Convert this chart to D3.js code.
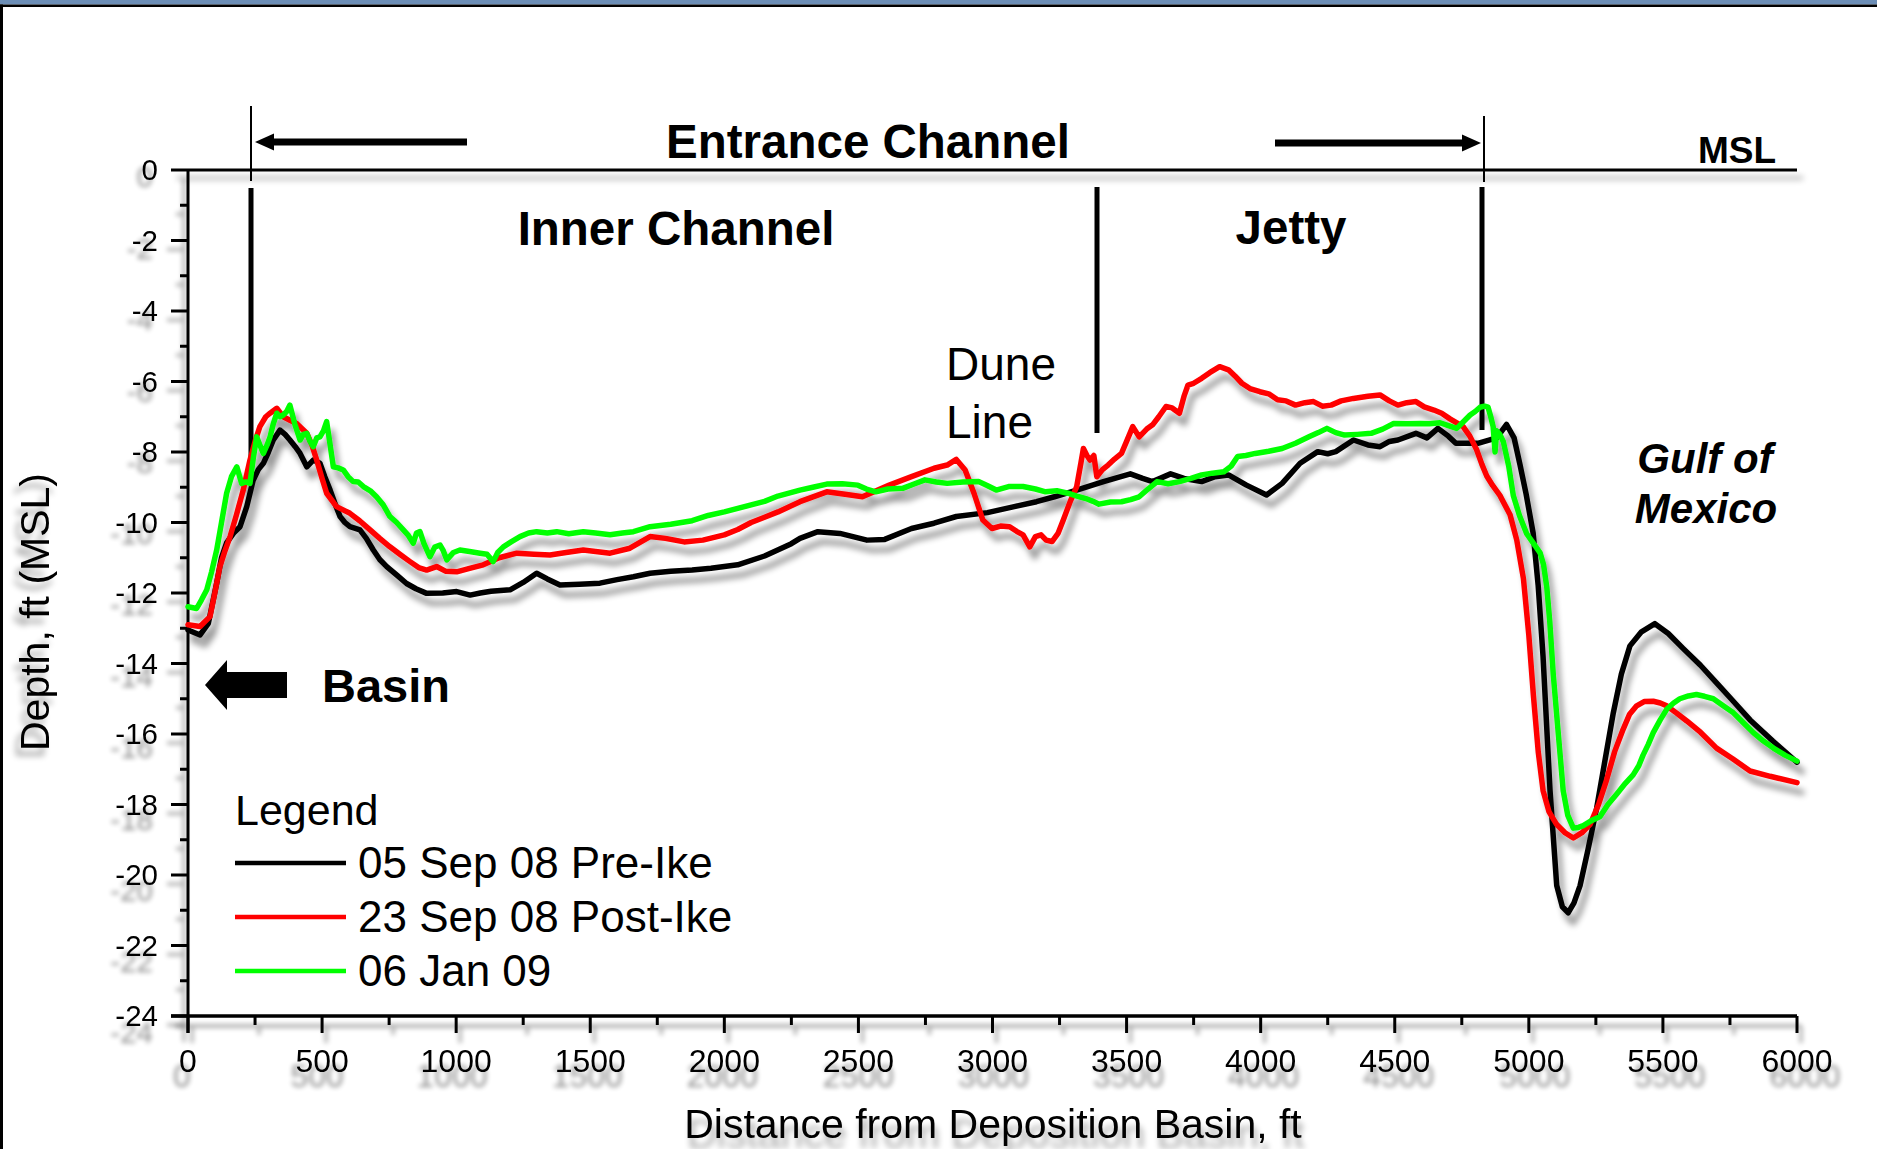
<!DOCTYPE html>
<html><head><meta charset="utf-8">
<script src="https://cdn.jsdelivr.net/npm/d3@7"></script>
<style>html,body{margin:0;padding:0;background:#fff;overflow:hidden}svg{display:block;font-family:"Liberation Sans",Arial,sans-serif}</style>
</head><body>
<svg id="c" width="1877" height="1149"></svg>
<script>
// ---------- data ----------
const xTickValues = [0,500,1000,1500,2000,2500,3000,3500,4000,4500,5000,5500,6000];
const xMinorValues = [250,750,1250,1750,2250,2750,3250,3750,4250,4750,5250,5750];
const yTickValues = [0,-2,-4,-6,-8,-10,-12,-14,-16,-18,-20,-22,-24];
const yMinorValues = [-1,-3,-5,-7,-9,-11,-13,-15,-17,-19,-21,-23];
const seriesNames = ["05 Sep 08 Pre-Ike","23 Sep 08 Post-Ike","06 Jan 09"];
const seriesColors = ["#000000","#ff0000","#00ff00"];
const preIke = [[0,-13.05],[45,-13.19],[76,-12.86],[107,-11.72],[125,-11.0],[144,-10.58],[170,-10.3],[194,-10.12],[219,-9.55],[243,-8.8],[262,-8.5],[281,-8.32],[300,-8.0],[318,-7.66],[343,-7.38],[362,-7.5],[380,-7.66],[400,-7.85],[418,-8.04],[443,-8.42],[467,-8.23],[492,-8.32],[510,-8.7],[530,-9.08],[550,-9.5],[567,-9.83],[585,-10.0],[604,-10.12],[641,-10.21],[665,-10.45],[691,-10.78],[715,-11.05],[741,-11.25],[780,-11.5],[815,-11.73],[850,-11.88],[890,-12.01],[950,-12.0],[1002,-11.96],[1052,-12.06],[1090,-12.0],[1130,-11.95],[1201,-11.91],[1250,-11.7],[1300,-11.44],[1340,-11.6],[1387,-11.77],[1460,-11.75],[1536,-11.72],[1600,-11.62],[1661,-11.54],[1723,-11.44],[1800,-11.38],[1880,-11.35],[1950,-11.3],[2050,-11.2],[2150,-10.95],[2250,-10.6],[2282,-10.45],[2349,-10.26],[2431,-10.31],[2532,-10.5],[2598,-10.48],[2698,-10.17],[2782,-10.02],[2865,-9.83],[2981,-9.72],[3081,-9.55],[3164,-9.41],[3231,-9.27],[3314,-9.08],[3414,-8.84],[3514,-8.62],[3560,-8.75],[3597,-8.84],[3664,-8.62],[3714,-8.75],[3780,-8.84],[3830,-8.7],[3880,-8.65],[3947,-8.94],[4022,-9.22],[4080,-8.89],[4147,-8.32],[4213,-7.99],[4250,-8.05],[4280,-7.99],[4346,-7.66],[4400,-7.8],[4445,-7.85],[4480,-7.7],[4512,-7.66],[4579,-7.47],[4620,-7.6],[4661,-7.33],[4700,-7.55],[4728,-7.75],[4813,-7.75],[4880,-7.6],[4917,-7.22],[4945,-7.6],[4967,-8.36],[4990,-9.2],[5016,-10.3],[5035,-11.8],[5053,-13.8],[5079,-17.6],[5104,-20.3],[5125,-20.9],[5147,-21.07],[5168,-20.8],[5191,-20.3],[5220,-19.3],[5253,-18.1],[5285,-16.7],[5315,-15.4],[5345,-14.3],[5377,-13.5],[5420,-13.1],[5470,-12.87],[5520,-13.15],[5575,-13.57],[5640,-14.05],[5700,-14.55],[5760,-15.05],[5825,-15.6],[5910,-16.2],[6000,-16.8]];
const postIke = [[0,-12.9],[45,-12.95],[82,-12.67],[100,-12.0],[119,-11.25],[138,-10.8],[157,-10.4],[180,-9.8],[206,-9.08],[231,-8.23],[250,-7.7],[268,-7.28],[290,-7.0],[306,-6.9],[331,-6.76],[355,-7.0],[380,-7.1],[405,-7.19],[443,-7.47],[462,-7.8],[480,-8.23],[500,-8.75],[517,-9.17],[554,-9.55],[604,-9.74],[640,-9.95],[679,-10.21],[715,-10.45],[753,-10.69],[790,-10.9],[828,-11.11],[860,-11.28],[890,-11.35],[927,-11.25],[960,-11.38],[1002,-11.4],[1050,-11.3],[1101,-11.2],[1160,-11.0],[1226,-10.87],[1290,-10.9],[1350,-10.92],[1410,-10.85],[1474,-10.78],[1520,-10.82],[1574,-10.87],[1648,-10.73],[1723,-10.4],[1780,-10.45],[1850,-10.55],[1920,-10.5],[2000,-10.35],[2050,-10.2],[2100,-10.0],[2150,-9.85],[2200,-9.7],[2282,-9.41],[2382,-9.13],[2450,-9.2],[2515,-9.27],[2615,-8.94],[2698,-8.7],[2782,-8.46],[2831,-8.37],[2865,-8.21],[2898,-8.51],[2931,-9.17],[2964,-9.93],[2998,-10.17],[3030,-10.1],[3064,-10.12],[3090,-10.25],[3114,-10.35],[3139,-10.69],[3160,-10.4],[3181,-10.35],[3200,-10.5],[3222,-10.54],[3245,-10.3],[3264,-9.93],[3290,-9.4],[3314,-8.98],[3330,-8.3],[3339,-7.9],[3352,-8.1],[3364,-8.23],[3378,-8.1],[3389,-8.7],[3410,-8.5],[3431,-8.37],[3455,-8.2],[3481,-8.04],[3500,-7.7],[3523,-7.28],[3547,-7.57],[3575,-7.35],[3597,-7.23],[3620,-7.0],[3647,-6.71],[3670,-6.75],[3697,-6.9],[3715,-6.4],[3729,-6.1],[3750,-6.05],[3780,-5.91],[3810,-5.75],[3847,-5.58],[3880,-5.67],[3905,-5.85],[3930,-6.05],[3960,-6.2],[3997,-6.29],[4030,-6.35],[4063,-6.52],[4095,-6.55],[4130,-6.67],[4165,-6.6],[4197,-6.57],[4230,-6.7],[4263,-6.67],[4300,-6.55],[4346,-6.48],[4400,-6.42],[4445,-6.38],[4480,-6.55],[4512,-6.67],[4545,-6.6],[4579,-6.57],[4610,-6.72],[4646,-6.81],[4675,-6.9],[4706,-7.06],[4755,-7.28],[4780,-7.55],[4805,-7.93],[4825,-8.35],[4843,-8.68],[4865,-8.95],[4892,-9.23],[4930,-9.78],[4955,-10.5],[4980,-11.6],[5000,-13.2],[5017,-14.9],[5035,-16.5],[5053,-17.6],[5075,-18.2],[5104,-18.57],[5135,-18.8],[5166,-18.95],[5198,-18.8],[5228,-18.57],[5260,-18.0],[5290,-17.3],[5320,-16.5],[5352,-15.86],[5375,-15.45],[5402,-15.2],[5430,-15.08],[5464,-15.07],[5490,-15.12],[5514,-15.2],[5550,-15.4],[5589,-15.63],[5640,-15.95],[5700,-16.4],[5760,-16.7],[5825,-17.05],[5900,-17.2],[6000,-17.38]];
const jan09 = [[0,-12.39],[32,-12.44],[50,-12.2],[70,-11.91],[88,-11.4],[107,-10.78],[125,-10.0],[144,-9.17],[162,-8.7],[182,-8.42],[200,-8.89],[215,-8.85],[231,-8.89],[243,-8.2],[256,-7.57],[268,-7.8],[281,-8.04],[295,-7.8],[306,-7.57],[318,-7.2],[331,-6.9],[343,-7.0],[355,-6.95],[368,-6.85],[380,-6.67],[398,-7.2],[418,-7.66],[430,-7.5],[443,-7.47],[455,-7.7],[467,-7.85],[480,-7.6],[492,-7.57],[505,-7.4],[517,-7.14],[530,-7.8],[542,-8.42],[560,-8.45],[579,-8.51],[597,-8.7],[616,-8.84],[635,-8.85],[654,-8.98],[680,-9.1],[703,-9.27],[728,-9.5],[753,-9.83],[778,-10.0],[803,-10.21],[820,-10.35],[840,-10.59],[852,-10.3],[865,-10.26],[880,-10.6],[902,-10.97],[920,-10.7],[940,-10.64],[952,-10.8],[965,-11.06],[990,-10.85],[1014,-10.78],[1050,-10.82],[1089,-10.87],[1115,-10.9],[1138,-11.11],[1155,-10.85],[1176,-10.69],[1205,-10.55],[1238,-10.4],[1270,-10.3],[1300,-10.26],[1340,-10.3],[1375,-10.26],[1420,-10.32],[1474,-10.26],[1520,-10.3],[1574,-10.35],[1620,-10.3],[1661,-10.26],[1723,-10.12],[1800,-10.05],[1880,-9.95],[1940,-9.8],[2000,-9.7],[2050,-9.6],[2100,-9.5],[2150,-9.4],[2200,-9.25],[2282,-9.08],[2330,-9.0],[2382,-8.91],[2440,-8.9],[2498,-8.94],[2530,-9.05],[2565,-9.13],[2610,-9.05],[2665,-9.03],[2710,-8.9],[2748,-8.79],[2790,-8.85],[2831,-8.89],[2890,-8.85],[2948,-8.84],[2980,-8.95],[3014,-9.08],[3060,-8.98],[3114,-8.98],[3160,-9.05],[3198,-9.13],[3240,-9.1],[3281,-9.17],[3315,-9.25],[3348,-9.32],[3375,-9.4],[3397,-9.48],[3440,-9.42],[3481,-9.41],[3515,-9.35],[3547,-9.27],[3580,-9.05],[3614,-8.84],[3655,-8.9],[3697,-8.84],[3740,-8.75],[3780,-8.65],[3820,-8.6],[3863,-8.56],[3890,-8.4],[3914,-8.13],[3945,-8.1],[3980,-8.04],[4030,-7.98],[4080,-7.9],[4130,-7.75],[4180,-7.57],[4215,-7.45],[4247,-7.33],[4280,-7.45],[4313,-7.52],[4360,-7.5],[4412,-7.47],[4455,-7.35],[4496,-7.19],[4545,-7.2],[4596,-7.19],[4630,-7.2],[4669,-7.17],[4700,-7.25],[4731,-7.33],[4755,-7.15],[4781,-6.95],[4800,-6.85],[4818,-6.73],[4835,-6.7],[4848,-6.73],[4858,-7.0],[4867,-7.28],[4874,-8.0],[4880,-7.4],[4892,-7.5],[4905,-7.71],[4925,-8.4],[4942,-9.23],[4965,-9.8],[4992,-10.32],[5018,-10.6],[5042,-10.86],[5055,-11.2],[5067,-11.84],[5078,-12.8],[5091,-14.3],[5110,-16.0],[5128,-17.6],[5145,-18.3],[5166,-18.67],[5185,-18.65],[5203,-18.6],[5235,-18.45],[5265,-18.35],[5295,-18.0],[5328,-17.7],[5360,-17.4],[5389,-17.16],[5410,-16.9],[5426,-16.6],[5445,-16.3],[5464,-15.96],[5490,-15.6],[5514,-15.3],[5540,-15.12],[5563,-15.0],[5595,-14.92],[5625,-14.88],[5655,-14.93],[5688,-15.0],[5725,-15.2],[5763,-15.4],[5800,-15.68],[5837,-15.96],[5875,-16.2],[5912,-16.4],[5955,-16.6],[6000,-16.77]];
const seriesData = [preIke, postIke, jan09];

// ---------- layout ----------
const svg = d3.select("#c");
const W = 1877, H = 1149;
const x = d3.scaleLinear().domain([0,6000]).range([188,1797]);
const y = d3.scaleLinear().domain([0,-24]).range([170,1016]);
const defs = svg.append("defs");
let fid = 0;
function shadow(dx, dy, blur, op){
  const id = "sh" + (fid++);
  const f = defs.append("filter").attr("id", id).attr("filterUnits","userSpaceOnUse")
    .attr("x",0).attr("y",0).attr("width",W).attr("height",H);
  f.append("feGaussianBlur").attr("in","SourceAlpha").attr("stdDeviation", blur).attr("result","b");
  f.append("feOffset").attr("in","b").attr("dx",dx).attr("dy",dy).attr("result","o");
  const ct = f.append("feComponentTransfer").attr("in","o").attr("result","c");
  ct.append("feFuncA").attr("type","linear").attr("slope",op);
  const m = f.append("feMerge");
  m.append("feMergeNode").attr("in","c");
  m.append("feMergeNode").attr("in","SourceGraphic");
  return "url(#" + id + ")";
}

// frame
svg.append("rect").attr("x",0).attr("y",0).attr("width",W).attr("height",H).attr("fill","#fff");
svg.append("rect").attr("x",0).attr("y",0).attr("width",W).attr("height",4.5).attr("fill","#6c8eb6");
svg.append("rect").attr("x",0).attr("y",4.5).attr("width",W).attr("height",2.5).attr("fill","#000");
svg.append("rect").attr("x",0).attr("y",4.5).attr("width",3).attr("height",H).attr("fill","#000");

// ---------- y axis ----------
const yAx = svg.append("g").attr("filter", shadow(-4,9,2.5,0.35));
yAx.append("line").attr("x1",188).attr("x2",188).attr("y1",y(0)).attr("y2",y(-24)+17).attr("stroke","#000").attr("stroke-width",3);
yAx.selectAll("line.maj").data(yTickValues.slice(1)).join("line").attr("class","maj")
  .attr("x1",171).attr("x2",188).attr("y1",d=>y(d)).attr("y2",d=>y(d)).attr("stroke","#000").attr("stroke-width",3);
yAx.selectAll("line.min").data(yMinorValues).join("line").attr("class","min")
  .attr("x1",180).attr("x2",188).attr("y1",d=>y(d)).attr("y2",d=>y(d)).attr("stroke","#000").attr("stroke-width",3);
yTickValues.forEach(v=>{
  const ty = y(v) + 10;
  const dy = 5 + ty*0.012;
  svg.append("text").attr("x",158).attr("y",ty).attr("text-anchor","end").attr("font-size",29.5)
    .attr("filter", shadow(-5,dy,2.5,0.45)).text(String(v));
});

// ---------- x axis ----------
const xAx = svg.append("g").attr("filter", shadow(4,10,2.5,0.35));
xAx.append("line").attr("x1",171).attr("x2",1797).attr("y1",y(-24)).attr("y2",y(-24)).attr("stroke","#000").attr("stroke-width",3.5);
xAx.selectAll("line.maj").data(xTickValues).join("line").attr("class","maj")
  .attr("x1",d=>x(d)).attr("x2",d=>x(d)).attr("y1",y(-24)).attr("y2",y(-24)+17).attr("stroke","#000").attr("stroke-width",3);
xAx.selectAll("line.min").data(xMinorValues).join("line").attr("class","min")
  .attr("x1",d=>x(d)).attr("x2",d=>x(d)).attr("y1",y(-24)).attr("y2",y(-24)+9).attr("stroke","#000").attr("stroke-width",3);
xTickValues.forEach(v=>{
  const tx = x(v);
  svg.append("text").attr("x",tx).attr("y",1072).attr("text-anchor","middle").attr("font-size",32)
    .attr("filter", shadow((tx-900)*0.009,15,2.5,0.45)).text(v);
});

// top MSL line (y = 0)
svg.append("line").attr("x1",171).attr("x2",1797).attr("y1",y(0)).attr("y2",y(0))
  .attr("stroke","#000").attr("stroke-width",3).attr("filter", shadow(6,8,3,0.35));

// axis titles
svg.append("text").attr("x",993).attr("y",1138).attr("text-anchor","middle").attr("font-size",41)
  .attr("filter", shadow(3,10,3,0.35)).text("Distance from Deposition Basin, ft");
svg.append("g").attr("filter", shadow(-5,8,3,0.35))
  .append("text").attr("transform","translate(49,612) rotate(-90)").attr("text-anchor","middle").attr("font-size",41)
  .text("Depth, ft (MSL)");

// ---------- annotation lines ----------
function vline(xx, y1, y2, w){ svg.append("line").attr("x1",xx).attr("x2",xx).attr("y1",y1).attr("y2",y2).attr("stroke","#000").attr("stroke-width",w); }
vline(251,106,181,2);
vline(1484,116,182,2);
vline(251,188,463,5);
vline(1097,187,433,5);
vline(1482,187,430,5);

// entrance channel arrows
svg.append("rect").attr("x",272).attr("y",138.5).attr("width",195).attr("height",7).attr("fill","#000");
svg.append("path").attr("d","M255,142 L274,133.5 L274,150.5 Z").attr("fill","#000");
svg.append("rect").attr("x",1275).attr("y",139.5).attr("width",189).attr("height",7).attr("fill","#000");
svg.append("path").attr("d","M1481,143 L1462,134.5 L1462,151.5 Z").attr("fill","#000");

// basin arrow
svg.append("path").attr("d","M205,685 L227,660 L227,672 L287,672 L287,698 L227,698 L227,710 Z").attr("fill","#000");

// texts
function txt(s, xx, yy, size, weight, anchor, style){
  svg.append("text").attr("x",xx).attr("y",yy).attr("font-size",size).attr("font-weight",weight||"normal")
    .attr("text-anchor",anchor||"start").attr("font-style",style||"normal").attr("fill","#000").text(s);
}
txt("Entrance Channel", 868, 158, 47.5, "bold", "middle");
txt("MSL", 1776, 163, 37, "bold", "end");
txt("Inner Channel", 676, 245, 47.5, "bold", "middle");
txt("Jetty", 1291, 244, 47.5, "bold", "middle");
txt("Dune", 946, 380, 46);
txt("Line", 946, 438, 46);
txt("Basin", 322, 702, 47, "bold");
txt("Gulf of", 1705, 473, 42, "bold", "middle", "italic");
txt("Mexico", 1706, 523, 42, "bold", "middle", "italic");

// ---------- curves ----------
const line = d3.line().x(d=>x(d[0])).y(d=>y(d[1]));
const cg = svg.append("g").attr("filter", shadow(5,10,3,0.4));
seriesData.forEach((s,i)=>{
  cg.append("path").datum(s).attr("d",line).attr("fill","none").attr("stroke",seriesColors[i])
    .attr("stroke-width",5.5).attr("stroke-linejoin","round").attr("stroke-linecap","round");
});

// ---------- legend ----------
txt("Legend", 235, 825, 43);
seriesNames.forEach((n,i)=>{
  const ly = 863 + i*54;
  svg.append("line").attr("x1",235).attr("x2",346).attr("y1",ly).attr("y2",ly).attr("stroke",seriesColors[i]).attr("stroke-width",4.5);
  txt(n, 358, 878 + i*54, 44);
});
</script>
</body></html>
